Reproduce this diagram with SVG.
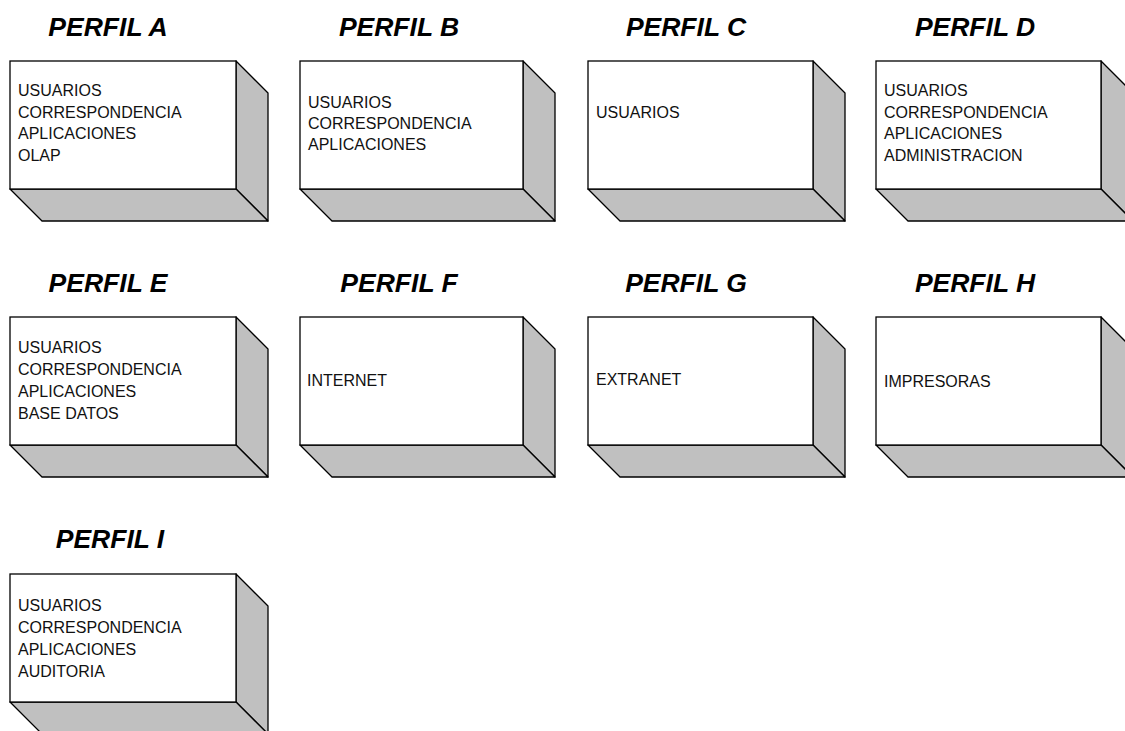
<svg xmlns="http://www.w3.org/2000/svg" width="1125" height="731" viewBox="0 0 1125 731">
<style>
.front{fill:#fff;stroke:#000;stroke-width:1.3}
.shade{fill:#c0c0c0;stroke:#000;stroke-width:1.3;stroke-linejoin:round}
.title{font-family:"Liberation Sans",Arial,sans-serif;font-weight:bold;font-style:italic;font-size:26.5px;fill:#000;text-anchor:middle}
.lbl{font-family:"Liberation Sans",Arial,sans-serif;font-size:16px;fill:#111}
</style>
<rect width="1125" height="731" fill="#fff"/>
<g id="connectors"/>
<g id="perfil-a">
<text class="title" x="108" y="36">PERFIL A</text>
<polygon class="shade" points="236,61 268,93 268,221 236,189"/>
<polygon class="shade" points="10,189 236,189 268,221 42,221"/>
<rect class="front" x="10" y="61" width="226" height="128"/>
<text class="lbl" x="18" y="96"><tspan x="18">USUARIOS</tspan><tspan x="18" dy="21.7">CORRESPONDENCIA</tspan><tspan x="18" dy="21.7">APLICACIONES</tspan><tspan x="18" dy="21.7">OLAP</tspan></text>
</g>
<g id="perfil-b">
<text class="title" x="399" y="36">PERFIL B</text>
<polygon class="shade" points="523,61 555,93 555,221 523,189"/>
<polygon class="shade" points="300,189 523,189 555,221 332,221"/>
<rect class="front" x="300" y="61" width="223" height="128"/>
<text class="lbl" x="308" y="108.3"><tspan x="308">USUARIOS</tspan><tspan x="308" dy="21">CORRESPONDENCIA</tspan><tspan x="308" dy="21">APLICACIONES</tspan></text>
</g>
<g id="perfil-c">
<text class="title" x="686" y="36">PERFIL C</text>
<polygon class="shade" points="813,61 845,93 845,221 813,189"/>
<polygon class="shade" points="588,189 813,189 845,221 620,221"/>
<rect class="front" x="588" y="61" width="225" height="128"/>
<text class="lbl" x="596" y="117.7">USUARIOS</text>
</g>
<g id="perfil-d">
<text class="title" x="975" y="36">PERFIL D</text>
<polygon class="shade" points="1101,61 1133,93 1133,221 1101,189"/>
<polygon class="shade" points="876,189 1101,189 1133,221 908,221"/>
<rect class="front" x="876" y="61" width="225" height="128"/>
<text class="lbl" x="884" y="96"><tspan x="884">USUARIOS</tspan><tspan x="884" dy="21.7">CORRESPONDENCIA</tspan><tspan x="884" dy="21.7">APLICACIONES</tspan><tspan x="884" dy="21.7">ADMINISTRACION</tspan></text>
</g>
<g id="perfil-e">
<text class="title" x="108" y="292">PERFIL E</text>
<polygon class="shade" points="236,317 268,349 268,477 236,445"/>
<polygon class="shade" points="10,445 236,445 268,477 42,477"/>
<rect class="front" x="10" y="317" width="226" height="128"/>
<text class="lbl" x="18" y="352.5"><tspan x="18">USUARIOS</tspan><tspan x="18" dy="22.3">CORRESPONDENCIA</tspan><tspan x="18" dy="22.3">APLICACIONES</tspan><tspan x="18" dy="22.3">BASE DATOS</tspan></text>
</g>
<g id="perfil-f">
<text class="title" x="399" y="292">PERFIL F</text>
<polygon class="shade" points="523,317 555,349 555,477 523,445"/>
<polygon class="shade" points="300,445 523,445 555,477 332,477"/>
<rect class="front" x="300" y="317" width="223" height="128"/>
<text class="lbl" x="307" y="385.8">INTERNET</text>
</g>
<g id="perfil-g">
<text class="title" x="686" y="292">PERFIL G</text>
<polygon class="shade" points="813,317 845,349 845,477 813,445"/>
<polygon class="shade" points="588,445 813,445 845,477 620,477"/>
<rect class="front" x="588" y="317" width="225" height="128"/>
<text class="lbl" x="596" y="384.8">EXTRANET</text>
</g>
<g id="perfil-h">
<text class="title" x="975" y="292">PERFIL H</text>
<polygon class="shade" points="1101,317 1133,349 1133,477 1101,445"/>
<polygon class="shade" points="876,445 1101,445 1133,477 908,477"/>
<rect class="front" x="876" y="317" width="225" height="128"/>
<text class="lbl" x="884" y="386.5">IMPRESORAS</text>
</g>
<g id="perfil-i">
<text class="title" x="110" y="548">PERFIL I</text>
<polygon class="shade" points="236,574 268,606 268,734 236,702"/>
<polygon class="shade" points="10,702 236,702 268,734 42,734"/>
<rect class="front" x="10" y="574" width="226" height="128"/>
<text class="lbl" x="18" y="610.7"><tspan x="18">USUARIOS</tspan><tspan x="18" dy="22.2">CORRESPONDENCIA</tspan><tspan x="18" dy="22.2">APLICACIONES</tspan><tspan x="18" dy="22.2">AUDITORIA</tspan></text>
</g>
</svg>
